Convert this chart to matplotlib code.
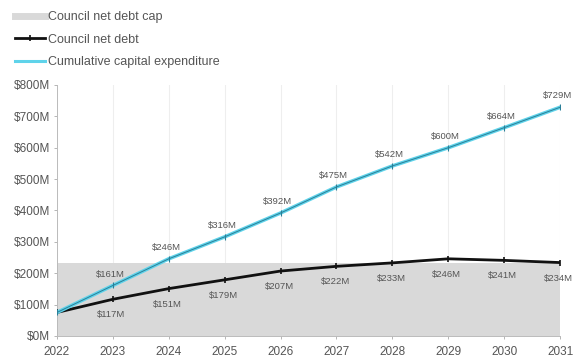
import matplotlib
matplotlib.use("Agg")
import matplotlib.pyplot as plt
from matplotlib.lines import Line2D

years = [2022, 2023, 2024, 2025, 2026, 2027, 2028, 2029, 2030, 2031]
net_debt = [75, 117, 151, 179, 207, 222, 233, 246, 241, 234]
capex = [75, 161, 246, 316, 392, 475, 542, 600, 664, 729]
debt_cap = 232
y_ticks = [0, 100, 200, 300, 400, 500, 600, 700, 800]

plt.rcParams['font.family'] = ['Liberation Sans', 'DejaVu Sans']
txt = '#555555'
cyan = '#5fd3ea'

fig = plt.figure(figsize=(5.78, 3.58), dpi=100)
ax = fig.add_axes([0.0986, 0.0615, 0.8704, 0.7011])

# debt cap as shaded band
ax.fill_between(years, 0, debt_cap, color='#d9d9d9', lw=0, zorder=1)

ax.plot(years, net_debt, color='#111111', lw=2.0, marker='|', ms=5, mew=1.2, zorder=3)
ax.plot(years, capex, color=cyan, lw=2.6, zorder=3)
ax.plot(years, capex, color='#2b7f98', lw=0.7, marker='|', ms=4, mew=0.8, zorder=4)

for x, v in zip(years[1:], capex[1:]):
    ax.annotate(f'${v}M', (x, v), xytext=(-2, 5), textcoords='offset points',
                ha='center', va='bottom', fontsize=6.8, color=txt)
for x, v in zip(years[1:], net_debt[1:]):
    ax.annotate(f'${v}M', (x, v), xytext=(-1, -8), textcoords='offset points',
                ha='center', va='top', fontsize=6.8, color=txt)

ax.set_xlim(2022, 2031)
ax.set_ylim(0, 800)
ax.set_xticks(years)
ax.set_xticklabels([str(y) for y in years])
ax.set_yticks(y_ticks)
ax.set_yticklabels([f'${v}M' for v in y_ticks])
ax.tick_params(labelsize=8.5, length=2, width=0.6)
ax.tick_params(axis='y', colors='#aaaaaa', labelcolor=txt, pad=3)
ax.tick_params(axis='x', colors='#aaaaaa', labelcolor=txt, pad=5)
ax.grid(axis='x', color='#eeeeee', lw=0.8, zorder=0)
ax.set_axisbelow(True)
for s in ['top', 'right']:
    ax.spines[s].set_visible(False)
ax.spines['left'].set_color('#bbbbbb')
ax.spines['bottom'].set_color('#bbbbbb')
ax.spines['left'].set_linewidth(0.7)
ax.spines['bottom'].set_linewidth(0.7)

handles = [
    Line2D([], [], color='#d9d9d9', lw=5),
    Line2D([], [], color='#111111', lw=2.0, marker='|', ms=5, mew=1.2),
    Line2D([], [], color=cyan, lw=2.2),
]
labels = ['Council net debt cap', 'Council net debt', 'Cumulative capital expenditure']
fig.legend(handles, labels, loc='upper left', bbox_to_anchor=(0.026, 0.968),
           frameon=False, fontsize=9, labelcolor=txt, handlelength=2.4,
           handletextpad=0.25, labelspacing=0.82, borderaxespad=0, borderpad=0)

fig.savefig('out.png', dpi=100)
